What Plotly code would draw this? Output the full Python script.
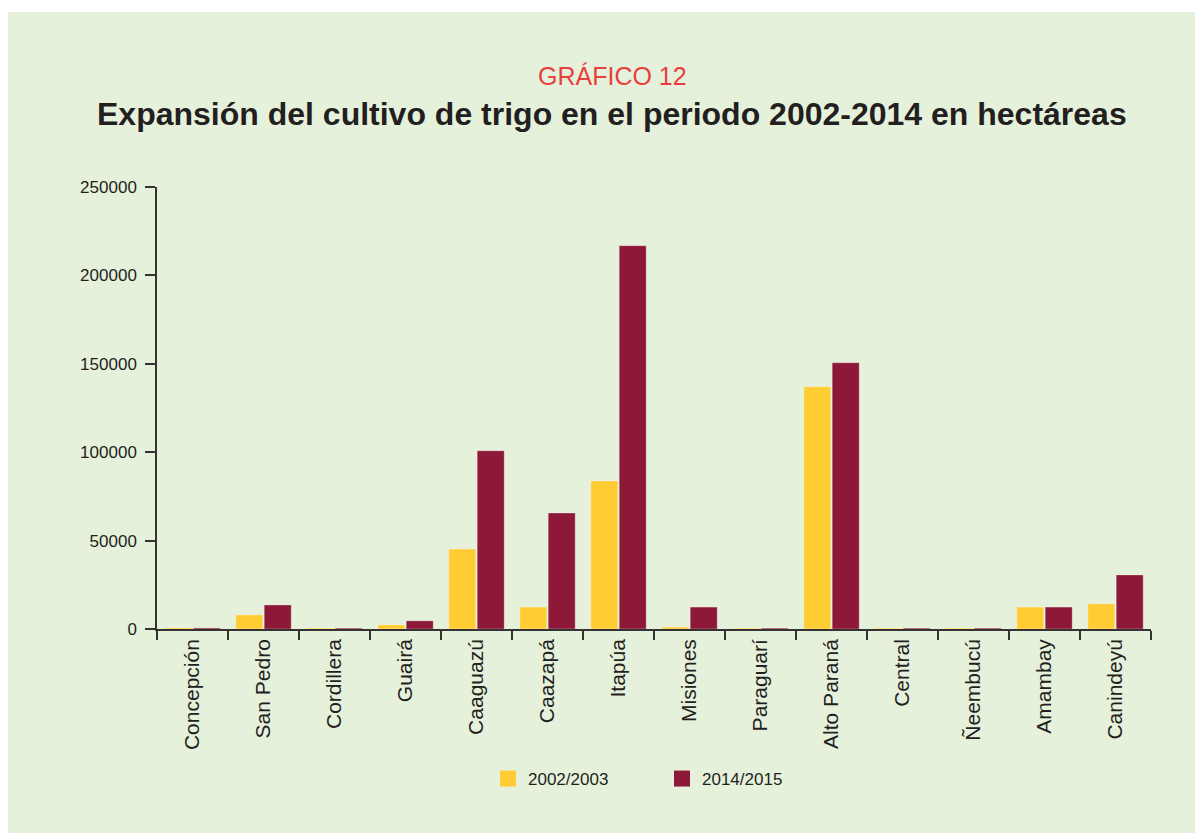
import plotly.graph_objects as go

departamentos = ["Concepción", "San Pedro", "Cordillera", "Guairá", "Caaguazú", "Caazapá",
                 "Itapúa", "Misiones", "Paraguarí", "Alto Paraná", "Central", "Ñeembucú",
                 "Amambay", "Canindeyú"]
ha_2002 = [600, 8000, 500, 2300, 45200, 12400, 83700, 1100, 500, 137000, 500, 500, 12400, 14200]
ha_2014 = [600, 13600, 500, 4600, 100800, 65600, 216800, 12400, 500, 150600, 500, 500, 12400, 30600]
y_ticks = [0, 50000, 100000, 150000, 200000, 250000]
series_names = ["2002/2003", "2014/2015"]
series_colors = ["#ffcc33", "#8e1838"]

BG = "#e6f1dc"
FONT = "Liberation Sans, Arial, sans-serif"

# page body has an 8px margin: work in figure coordinates = screen - 8
OFF = 8
W, H = 1203 - OFF, 838 - OFF
L, R, T, B = 157 - OFF, 1203 - 1151, 187 - OFF, 838 - 629
pw, ph = W - L - R, H - T - B


def px(xs):
    return (xs - OFF - L) / pw


def py(ys):
    return (H - B - (ys - OFF)) / ph


fig = go.Figure()
for name, vals, col in zip(series_names, [ha_2002, ha_2014], series_colors):
    fig.add_trace(go.Bar(x=departamentos, y=vals, name=name, showlegend=False,
                         marker=dict(color=col, line=dict(color="rgba(255,255,255,0.5)", width=0.6))))
for name, col in zip(series_names, series_colors):
    fig.add_trace(go.Scatter(x=[None], y=[None], mode="markers", name=name,
                             marker=dict(symbol="square", size=16, color=col)))

fig.update_layout(
    width=W, height=H,
    margin=dict(l=L, r=R, t=T, b=B),
    paper_bgcolor="white",
    plot_bgcolor=BG,
    barmode="group", bargap=0.2, bargroupgap=0.05,
    font=dict(family=FONT, size=17, color="#231f20"),
    showlegend=True,
    legend=dict(orientation="h", x=px(488), xanchor="left", y=py(779), yanchor="middle",
                font=dict(size=17), itemsizing="trace", itemwidth=30, entrywidth=129,
                bgcolor="rgba(0,0,0,0)"),
    xaxis=dict(tickangle=-90, tickson="boundaries", ticks="outside", ticklen=9, tickwidth=1.5,
               tickcolor="#333333", showline=True, linecolor="#333333", linewidth=1.5,
               tickfont=dict(size=21), showgrid=False),
    yaxis=dict(range=[0, 250000], tickvals=y_ticks, ticks="outside", ticklen=10, tickwidth=1.5,
               tickcolor="#333333", showline=True, linecolor="#333333", linewidth=1.5,
               showgrid=False, zeroline=False, tickfont=dict(size=17), tickformat="d",
               ticklabelstandoff=5),
    shapes=[dict(type="rect", xref="paper", yref="paper", layer="below",
                 x0=px(0), x1=px(1197), y0=py(833), y1=py(12),
                 fillcolor=BG, line=dict(width=0))],
    annotations=[
        dict(text="GRÁFICO 12", xref="paper", yref="paper", x=px(612), y=py(76),
             xanchor="center", yanchor="middle", showarrow=False,
             font=dict(family=FONT, size=25, color="#e8403c")),
        dict(text="<b>Expansión del cultivo de trigo en el periodo 2002-2014 en hectáreas</b>",
             xref="paper", yref="paper", x=px(612), y=py(114),
             xanchor="center", yanchor="middle", showarrow=False,
             font=dict(family=FONT, size=32, color="#231f20")),
    ],
)

fig.write_html("out.html")
